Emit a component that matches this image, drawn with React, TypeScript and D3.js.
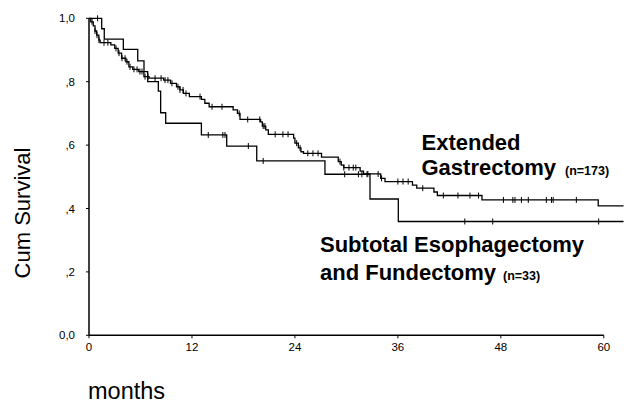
import React from "react";
import * as d3 from "d3";

// Kaplan-Meier steps: [month, survival after drop]
const extendedSteps: [number, number][] = [
  [0.2, 0.989], [0.5, 0.976], [0.7, 0.96], [0.9, 0.947], [1.15, 0.931], [1.3, 0.923],
  [2.55, 0.916], [3.0, 0.905], [3.4, 0.89], [3.8, 0.874], [4.3, 0.863], [4.65, 0.847],
  [5.1, 0.839], [5.8, 0.832], [6.4, 0.816], [7.0, 0.811], [8.7, 0.805], [9.5, 0.795],
  [10.2, 0.784], [10.6, 0.774], [11.0, 0.763], [11.7, 0.753], [13.1, 0.744], [13.5, 0.732],
  [14.0, 0.721], [16.8, 0.711], [17.3, 0.7], [17.6, 0.681], [20.0, 0.673], [20.2, 0.66],
  [20.6, 0.648], [20.9, 0.634], [23.85, 0.622], [24.0, 0.606], [24.4, 0.591], [24.7, 0.579],
  [25.0, 0.574], [27.1, 0.562], [29.05, 0.548], [29.4, 0.537], [29.7, 0.529], [31.6, 0.518],
  [32.0, 0.509], [34.0, 0.495], [34.5, 0.485], [37.7, 0.474], [38.2, 0.464], [40.2, 0.452],
  [40.6, 0.441], [45.8, 0.427], [59.35, 0.408],
];
const extendedCensored: number[] = [
  0.35, 0.7, 0.93, 1.17, 1.75, 2.2, 3.15, 3.5, 3.85, 4.2, 4.43, 4.78, 5.24, 5.6, 5.94, 6.18,
  6.53, 6.88, 7.7, 8.4, 8.86, 9.2, 9.67, 10.37, 10.6, 10.96, 11.3, 12.94, 14.34, 15.5, 17.5,
  18.5, 19.9, 20.3, 20.5, 21.7, 22.6, 23.2, 24.2, 24.6, 25.5, 26.1, 26.7, 29.25, 29.7, 30.3,
  30.8, 31.1, 32.5, 33.7, 34.1, 36.0, 36.6, 37.2, 38.9, 41.3, 43.0, 44.4, 45.4, 48.3, 49.4,
  49.65, 50.4, 51.2, 53.3, 53.9, 54.1, 56.8,
];
const subtotalSteps: [number, number][] = [
  [1.48, 0.967], [1.78, 0.934], [4.0, 0.902], [5.68, 0.866], [6.41, 0.832], [6.84, 0.8],
  [8.08, 0.77], [8.35, 0.702], [8.94, 0.669], [13.1, 0.632], [16.05, 0.597], [19.55, 0.55],
  [27.5, 0.508], [32.75, 0.43], [36.05, 0.359],
];
const subtotalCensored: number[] = [
  1.0, 13.9, 15.6, 15.85, 18.57, 20.3, 29.8, 31.4, 31.8, 32.4, 43.8, 47.05, 59.4,
];
const followUpEnd = 62.3;

const xTicks = [0, 12, 24, 36, 48, 60];
const yTicks = [0, 0.2, 0.4, 0.6, 0.8, 1.0];
const yTickLabels = ["0,0", ",2", ",4", ",6", ",8", "1,0"];

const W = 638;
const H = 403;
const FONT = "'Liberation Sans', Arial, Helvetica, sans-serif";

export default function App() {
  const x = d3.scaleLinear().domain([0, 60]).range([89, 603.8]);
  const y = d3.scaleLinear().domain([0, 1]).range([335.3, 18.3]);

  const toPoints = (steps: [number, number][]) => {
    const pts: [number, number][] = [[0, 1], ...steps];
    pts.push([followUpEnd, steps[steps.length - 1][1]]);
    return pts;
  };
  const line = d3
    .line<[number, number]>()
    .x((d) => x(d[0]))
    .y((d) => y(d[1]))
    .curve(d3.curveStepAfter);

  const survAt = (steps: [number, number][], m: number) => {
    let v = 1;
    for (const [sm, sv] of steps) if (sm <= m) v = sv;
    return v;
  };

  const curves = [
    { steps: extendedSteps, cens: extendedCensored },
    { steps: subtotalSteps, cens: subtotalCensored },
  ];

  return (
    <svg
      width={W}
      height={H}
      style={{ position: "absolute", left: 0, top: 0, background: "#fff" }}
      fontFamily={FONT}
    >
      <rect width={W} height={H} fill="#fff" />
      {/* axes */}
      <line x1={x(0)} x2={x(0)} y1={y(1)} y2={y(0)} stroke="#000" strokeWidth={1.5} />
      <line x1={x(0)} x2={x(60)} y1={y(0)} y2={y(0)} stroke="#000" strokeWidth={1.5} />
      {yTicks.map((t, i) => (
        <g key={"y" + i}>
          <line x1={x(0) - 3} x2={x(0)} y1={y(t)} y2={y(t)} stroke="#000" strokeWidth={1} />
          <text x={75} y={y(t) + 4} textAnchor="end" fontSize={11.5} fill="#000">
            {yTickLabels[i]}
          </text>
        </g>
      ))}
      {xTicks.map((t) => (
        <g key={"x" + t}>
          <line x1={x(t)} x2={x(t)} y1={y(0)} y2={y(0) + 3} stroke="#000" strokeWidth={1} />
          <text x={x(t)} y={351} textAnchor="middle" fontSize={11.5} fill="#000">
            {t}
          </text>
        </g>
      ))}
      {/* curves */}
      {curves.map((c, i) => (
        <g key={"c" + i}>
          <path d={line(toPoints(c.steps)) || ""} fill="none" stroke="#000" strokeWidth={1.3} />
          {c.cens.map((m, j) => {
            const v = survAt(c.steps, m);
            return (
              <line
                key={j}
                x1={x(m)}
                x2={x(m)}
                y1={y(v) - 3}
                y2={y(v) + 3}
                stroke="#000"
                strokeWidth={1}
              />
            );
          })}
        </g>
      ))}
      {/* labels */}
      <text x={421.5} y={149.5} fontSize={22} fontWeight="bold" fill="#000">
        Extended
      </text>
      <text x={421.5} y={175} fontSize={22} fontWeight="bold" fill="#000">
        Gastrectomy
        <tspan fontSize={12.5} dx={9}>(n=173)</tspan>
      </text>
      <text x={320} y={252} fontSize={22} fontWeight="bold" fill="#000">
        Subtotal Esophagectomy
      </text>
      <text x={320} y={279.5} fontSize={22} fontWeight="bold" fill="#000">
        and Fundectomy
        <tspan fontSize={12.5} dx={7}>(n=33)</tspan>
      </text>
      <text
        transform={`translate(30,${213}) rotate(-90)`}
        textAnchor="middle"
        fontSize={22}
        fill="#000"
      >
        Cum Survival
      </text>
      <text x={88} y={398.5} fontSize={23.5} fill="#000">
        months
      </text>
    </svg>
  );
}
